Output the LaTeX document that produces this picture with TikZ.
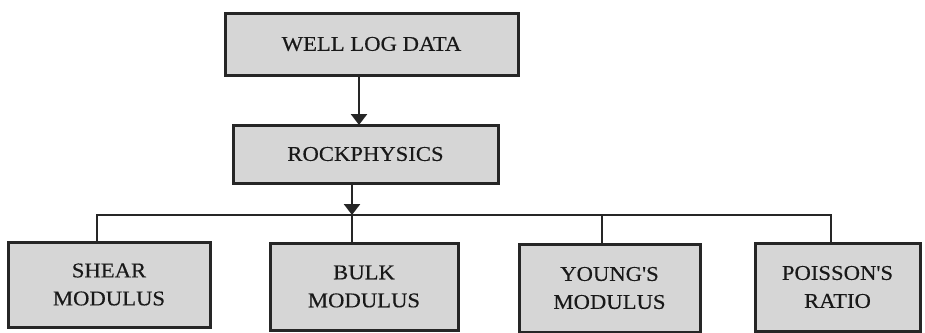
\documentclass[tikz,border=0pt]{standalone}
\usepackage{fontspec}
\setmainfont{Liberation Serif}
\newfontfamily\boxfont{Liberation Serif}[FakeStretch=1.08,FakeBold=0.3]
\usetikzlibrary{shadows,arrows.meta}

\begin{document}
\begin{tikzpicture}[x=1pt,y=-1pt,
    every node/.style={font=\boxfont\fontsize{21}{28}\selectfont,text=black!90},
    box/.style={draw=black!85,line width=3pt,fill=black!16,align=center,inner sep=0pt,
      drop shadow={shadow xshift=2pt,shadow yshift=-2pt,opacity=0.3}},
    link/.style={line width=2.6pt,draw=black!85},
    arr/.style={link,-{Triangle[width=16pt,length=11pt]}}]
  \useasboundingbox (0,0) rectangle (925,332);
  % top of the chart
  \node[box,minimum width=293pt,minimum height=62pt] (well) at (371.5,44) {WELL LOG DATA};
  \node[box,minimum width=265pt,minimum height=58pt] (rock) at (365.5,154) {ROCKPHYSICS};
  % the four results
  \node[box,minimum width=202pt,minimum height=85pt] (shear) at (109,284.5) {SHEAR\\MODULUS};
  \node[box,minimum width=188pt,minimum height=87pt] (bulk) at (364,286.5) {BULK\\MODULUS};
  \node[box,minimum width=181pt,minimum height=88pt] (young) at (609.5,288) {YOUNG'S\\MODULUS};
  \node[box,minimum width=165pt,minimum height=88pt] (poisson) at (837.5,287) {POISSON'S\\RATIO};
  % junctions
  \coordinate (w1) at (359,75);
  \coordinate (r1) at (359,125);
  \coordinate (r2) at (352,183);
  \coordinate (j) at (352,215);
  \draw[arr] (w1) -- (r1);
  \draw[arr] (r2) -- (j);
  \draw[link] (shear.north -| 97,0) |- (j) -| (poisson.north -| 831,0);
  \draw[link] (j) -- (bulk.north -| j);
  \draw[link] (young.north -| 602,0) -- (602,215);
\end{tikzpicture}
\end{document}
